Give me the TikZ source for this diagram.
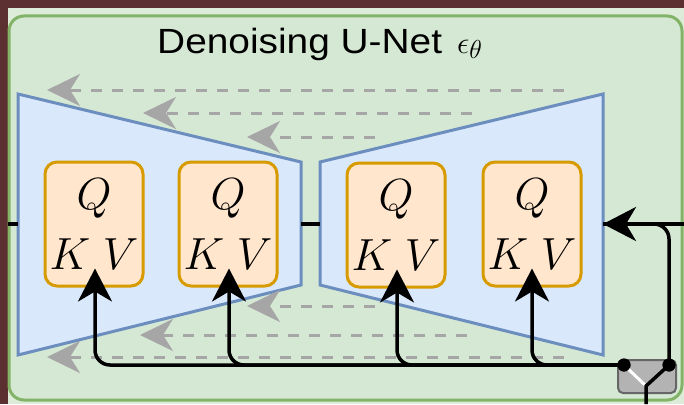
\RequirePackage{fix-cm}
\documentclass[tikz,border=0pt]{standalone}
\usepackage{fontspec}
\setmainfont{Liberation Sans}
\usetikzlibrary{arrows.meta}

\definecolor{frame}{RGB}{92,48,48}
\definecolor{pagebg}{RGB}{220,236,217}
\definecolor{netfill}{RGB}{213,232,212}
\definecolor{netline}{RGB}{130,179,102}
\definecolor{blkfill}{RGB}{218,232,252}
\definecolor{blkline}{RGB}{108,142,191}
\definecolor{attfill}{RGB}{255,230,204}
\definecolor{attline}{RGB}{215,155,0}
\definecolor{skipcol}{RGB}{166,166,166}
\definecolor{swfill}{RGB}{179,179,179}
\definecolor{swline}{RGB}{102,102,102}

\tikzset{
  netbox/.style={draw=netline, fill=netfill, line width=3pt, rounded corners=15pt},
  block/.style={draw=blkline, fill=blkfill, line width=3pt, line join=miter},
  attn/.style={draw=attline, fill=attfill, line width=3pt, rounded corners=12pt,
    minimum width=98pt, minimum height=124pt, inner sep=0pt, align=center,
    font=\fontsize{45}{60}\selectfont},
  skiparrow/.style={draw=skipcol, line width=3pt, dash pattern=on 11pt off 10pt,
    -{Stealth[length=33pt,width=32pt,inset=10pt,fill=skipcol]}},
  wire/.style={draw=black, line width=3.5pt},
  cond/.style={wire, rounded corners=15pt,
    -{Stealth[length=33pt,width=34pt,inset=10pt]}},
  switchbox/.style={draw=swline, fill=swfill, line width=2pt, rounded corners=5pt,
    minimum width=58pt, minimum height=33pt, inner sep=0pt},
  pin/.style={circle, fill=black, minimum size=13pt, inner sep=0pt},
}

\begin{document}
\begin{tikzpicture}[x=1pt,y=-1pt]
\useasboundingbox (0,0) rectangle (684,404);
\fill[frame] (0,0) rectangle (684,404);
\fill[pagebg] (8,8) rectangle (684,404);

% outer container
\draw[netbox] (9,16) rectangle (682,400);
\node[anchor=base west, inner sep=0pt, font=\fontsize{35}{40}\selectfont] (title) at (157,53)
  {\scalebox{1.11}[1]{Denoising U-Net}\hspace{15pt}%
   {\fontsize{31}{36}\selectfont$\epsilon$}%
   \raisebox{-5pt}{\fontsize{26}{30}\selectfont$\theta$}};

% encoder and decoder halves
\draw[block] (18,94) -- (301,162) -- (301,285) -- (18,355) -- cycle;
\draw[block] (320,162) -- (603,94) -- (603,355) -- (320,285) -- cycle;
\coordinate (encL) at (18,224);
\coordinate (encR) at (301,224);
\coordinate (decL) at (320,224);
\coordinate (decR) at (603,224);
\coordinate (xin) at (8,224);
\coordinate (cin) at (684,224);

% attention blocks
\node[attn] (a1) at (94,224)  {$Q$\\$K\ V$};
\node[attn] (a2) at (228,224) {$Q$\\$K\ V$};
\node[attn] (a3) at (396,225) {$Q$\\$K\ V$};
\node[attn] (a4) at (532,224) {$Q$\\$K\ V$};

% skip connections
\coordinate (s1a) at (564,90);  \coordinate (s1b) at (47,90);
\coordinate (s2a) at (472,113); \coordinate (s2b) at (143,113);
\coordinate (s3a) at (375,137); \coordinate (s3b) at (247,137);
\coordinate (s4a) at (375,306); \coordinate (s4b) at (247,306);
\coordinate (s5a) at (467,335); \coordinate (s5b) at (140,335);
\coordinate (s6a) at (564,357); \coordinate (s6b) at (47,357);
\foreach \k in {1,...,6} \draw[skiparrow] (s\k a) -- (s\k b);

% main data path
\draw[wire] (xin) -- (encL);
\draw[wire] (encR) -- (decL);
\draw[wire] (cin) -- (decR);

% switch
\node[switchbox] (sw) at (647,376.5) {};
\node[pin] (swl) at (624,365) {};
\node[pin] (swr) at (669,365) {};
\coordinate (swj) at (646,386);
\coordinate (swin) at (646,404);

% conditioning paths
\draw[cond] (swl.center) -| ([xshift=1pt,yshift=19pt]a1.south);
\draw[cond] (swl.center) -| ([xshift=1pt,yshift=19pt]a2.south);
\draw[cond] (swl.center) -| ([xshift=1pt,yshift=19pt]a3.south);
\draw[cond] (swl.center) -| ([yshift=19pt]a4.south);
\draw[cond] (swr.center) |- (decR);

\draw[white, line width=3pt] (swl.center) -- (swj);
\draw[wire] (swin) -- (swj) -- (swr.center);
\node[pin] at (swl) {};
\node[pin] at (swr) {};
\end{tikzpicture}
\end{document}
